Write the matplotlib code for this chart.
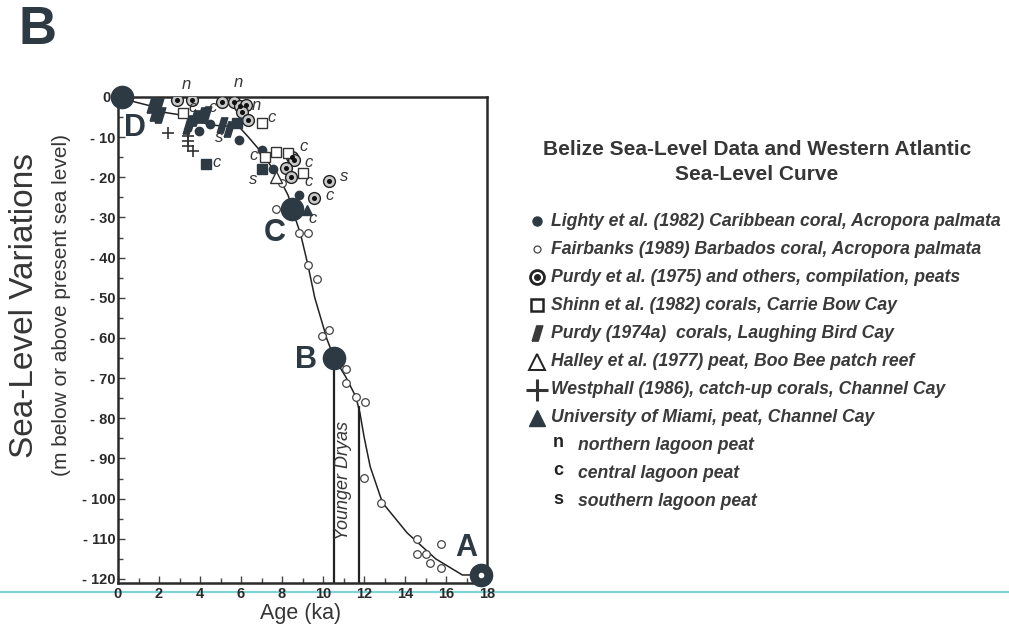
import matplotlib
matplotlib.use('Agg')
import matplotlib.pyplot as plt
from matplotlib.lines import Line2D

plt.rcParams['font.family'] = ['Liberation Sans', 'DejaVu Sans']

DARK = '#2d3a44'
INK = '#363636'

# western atlantic sea-level curve (age ka, level m)
curve_age = [0.2, 0.8, 1.65, 2.1, 3.1, 3.8, 4.5, 5.2, 5.9, 6.4, 6.9, 7.3, 7.9, 8.3, 8.5,
             8.9, 9.25, 9.6, 10.2, 10.55, 11.1, 11.6, 11.8, 12.0, 12.3, 12.9, 14.1, 15.5,
             16.8, 17.7]
curve_lvl = [0, -1.2, -2.3, -3.7, -4.5, -5.8, -7.0, -7.2, -7.4, -10.2, -13.2, -16, -20.5,
             -24.5, -28, -34, -41.5, -50, -60.4, -65, -69.6, -74.6, -78.6, -84.5, -92, -101,
             -108.5, -115, -119, -119]

# reference points A-D on the curve
big_names = ['A', 'B', 'C', 'D']
big_age = [17.7, 10.55, 8.5, 0.2]
big_lvl = [-119, -65, -28, 0]
big_text_age = [16.97, 9.18, 7.65, 0.83]
big_text_lvl = [-112.3, -65.4, -33.8, -7.8]

# Younger Dryas bounds (ka) and the level where each line starts
dryas_age = [10.55, 11.75]
dryas_top = [-65, -77]

lighty_age = [3.95, 4.48, 5.9, 7.0, 7.55, 8.85]
lighty_lvl = [-8.5, -6.7, -10.7, -13.2, -17.9, -24.4]

fairbanks_age = [8.0, 7.7, 8.85, 9.25, 9.25, 9.7, 9.97, 10.3, 11.1, 11.1, 11.6, 12.05,
                 12.0, 12.85, 14.6, 14.6, 15.0, 15.2, 15.75, 15.75]
fairbanks_lvl = [-21.5, -28, -33.8, -33.8, -41.8, -45.3, -59.5, -58, -67.6, -71.2, -74.6,
                 -76, -94.8, -101, -110, -113.7, -113.7, -115.9, -111.4, -117.2]

purdy75_age = [2.9, 3.6, 5.05, 5.65, 5.95, 6.25, 6.05, 6.35, 8.5, 8.6, 8.2, 8.45, 10.3, 9.55]
purdy75_lvl = [-0.7, -0.7, -1.2, -1.2, -2.2, -2.0, -3.7, -5.7, -15.0, -15.6, -17.7, -19.9,
               -20.9, -25.1]

shinn_age = [3.15, 7.0, 7.15, 7.7, 8.3, 9.0]
shinn_lvl = [-4.0, -6.5, -14.9, -13.6, -14.0, -18.9]

filled_sq_age = [4.3, 5.8, 7.0]
filled_sq_lvl = [-16.7, -6.5, -17.9]

purdy74_age = [1.65, 1.95, 1.8, 2.05, 3.4, 3.5, 3.75, 4.1, 4.3, 5.05, 5.4]
purdy74_lvl = [-2.0, -2.3, -4.0, -4.5, -7.2, -6.5, -5.2, -4.5, -4.2, -7.0, -8.0]

halley_age = [7.7]
halley_lvl = [-20.0]

westphall_age = [2.45, 3.4, 3.4, 3.4, 3.65]
westphall_lvl = [-9.0, -9.7, -11.0, -12.2, -13.4]

miami_age = [9.2]
miami_lvl = [-28.1]

# lagoon peat tags
tag_text = ['n', 'n', 'n', 'c', 'c', 'c', 'c', 's', 'c', 'c', 'c', 's', 'c', 's', 'c', 'c']
tag_age = [3.35, 5.85, 6.75, 3.65, 4.6, 7.5, 4.8, 4.95, 6.6, 9.05, 9.3, 6.6, 9.3, 11.05, 10.3, 9.5]
tag_lvl = [3.0, 3.5, -2.0, -2.7, -2.7, -5.2, -16.2, -10.2, -14.5, -12.2, -16.2, -20.6,
           -21.0, -19.7, -24.6, -30.3]

yticks = [0, -10, -20, -30, -40, -50, -60, -70, -80, -90, -100, -110, -120]
xticks = [0, 2, 4, 6, 8, 10, 12, 14, 16, 18]

legend_title = 'Belize Sea-Level Data and Western Atlantic\nSea-Level Curve'
legend_labels = ['Lighty et al. (1982) Caribbean coral, Acropora palmata',
                 'Fairbanks (1989) Barbados coral, Acropora palmata',
                 'Purdy et al. (1975) and others, compilation, peats',
                 'Shinn et al. (1982) corals, Carrie Bow Cay',
                 'Purdy (1974a)  corals, Laughing Bird Cay',
                 'Halley et al. (1977) peat, Boo Bee patch reef',
                 'Westphall (1986), catch-up corals, Channel Cay',
                 'University of Miami, peat, Channel Cay']
tag_keys = ['n', 'c', 's']
tag_labels = ['northern lagoon peat', 'central lagoon peat', 'southern lagoon peat']

slash = [(-0.7, -1), (-0.1, 1), (0.7, 1), (0.1, -1), (-0.7, -1)]

fig = plt.figure(figsize=(10.09, 6.29), dpi=100)
ax = fig.add_axes([118 / 1009, 1 - 583 / 629, 369 / 1009, 486 / 629])
ax.set_xlim(0, 18)
ax.set_ylim(-121, 0)

ax.plot(curve_age, curve_lvl, color='#222222', lw=1.1, zorder=2)
ax.vlines(dryas_age, -121, dryas_top, color='#222222', lw=1.6, zorder=2)
ax.text(11.02, -95.5, 'Younger Dryas', rotation=90, ha='center', va='center',
        fontsize=13, style='italic', color=INK)

ax.plot(lighty_age, lighty_lvl, 'o', ms=6, color=DARK, ls='none', zorder=4)
ax.plot(fairbanks_age, fairbanks_lvl, 'o', ms=5.5, mfc='white', mec='#444444', mew=0.9,
        ls='none', zorder=4)
ax.plot(purdy75_age, purdy75_lvl, 'o', ms=8.5, mfc='#c8c8c8', mec='#222222', mew=1.0,
        ls='none', zorder=4)
ax.plot(purdy75_age, purdy75_lvl, 'o', ms=2.6, color='#111111', ls='none', zorder=5)
ax.plot(shinn_age, shinn_lvl, 's', ms=7.5, mfc='white', mec='#333333', mew=1.0,
        ls='none', zorder=4)
ax.plot(filled_sq_age, filled_sq_lvl, 's', ms=6.5, color=DARK, ls='none', zorder=4)
ax.plot(purdy74_age, purdy74_lvl, marker=slash, ms=11, color=DARK, ls='none', zorder=4)
ax.plot(halley_age, halley_lvl, '^', ms=8, mfc='white', mec='#333333', mew=1.0,
        ls='none', zorder=4)
ax.plot(westphall_age, westphall_lvl, '+', ms=9, mew=1.2, color='#333333', ls='none', zorder=4)
ax.plot(miami_age, miami_lvl, '^', ms=6.5, color=DARK, ls='none', zorder=4)

for t, x, y in zip(tag_text, tag_age, tag_lvl):
    ax.text(x, y, t, fontsize=12, style='italic', color=INK, ha='center', va='center',
            zorder=6)

ax.plot(big_age, big_lvl, 'o', ms=16, color=DARK, ls='none', zorder=7, clip_on=False)
ax.plot(big_age[:1], big_lvl[:1], 'o', ms=3, color='white', ls='none', zorder=8,
        clip_on=False)
for n, x, y in zip(big_names, big_text_age, big_text_lvl):
    ax.text(x, y, n, fontsize=22, fontweight='bold', color=DARK, ha='center', va='center',
            zorder=8)

for s in ax.spines.values():
    s.set_linewidth(1.8)
    s.set_color('#2a2a2a')
ax.set_xticks(xticks)
ax.set_xticklabels([str(v) for v in xticks])
ax.set_xticks(range(0, 19), minor=True)
ax.set_yticks(yticks)
ax.set_yticklabels(['0 ' if v == 0 else '- %d' % -v for v in yticks])
ax.set_yticks(range(-120, 1, 5), minor=True)
ax.tick_params(which='both', direction='in', color='#444444', width=1.0)
ax.tick_params(which='major', length=5, labelsize=10.5, labelcolor='#2a2a2a', pad=3)
ax.tick_params(which='minor', length=3.5)
for lab in ax.get_xticklabels() + ax.get_yticklabels():
    lab.set_fontweight('bold')
ax.tick_params(axis='y', pad=2)

# overlay in pixel coordinates for side texts and legend
ov = fig.add_axes([0, 0, 1, 1], zorder=-1)
ov.set_xlim(0, 1009)
ov.set_ylim(629, 0)
ov.axis('off')
ov.add_line(Line2D([0, 1009], [592, 592], color='#7fd4d8', lw=1.6))

ov.text(38, 30, 'B', fontsize=38, fontweight='bold', color=DARK, ha='center', va='center')
ov.text(25, 305, 'Sea-Level Variations', rotation=90, fontsize=24, color=INK,
        ha='center', va='center')
ov.text(62, 305, '(m below or above present sea level)', rotation=90, fontsize=15,
        color=INK, ha='center', va='center')
ov.text(301, 613, 'Age (ka)', fontsize=15.5, color=INK, ha='center', va='center')

ov.text(757, 162, legend_title, fontsize=15, fontweight='bold', color=INK,
        ha='center', va='center', linespacing=1.45)

row_y = [220 + 28.1 * i for i in range(11)]
mk = [dict(marker='o', ms=6.5, color=DARK),
      dict(marker='o', ms=5, mfc='white', mec='#444444', mew=0.9),
      dict(marker='o', ms=10, mfc='white', mec='#222222', mew=2.0),
      dict(marker='s', ms=9, mfc='white', mec='#222222', mew=1.8),
      dict(marker=slash, ms=11, color='#3a3a3a'),
      dict(marker='^', ms=11, mfc='white', mec='#222222', mew=1.4),
      dict(marker='+', ms=16, mew=2.2, color='#333333'),
      dict(marker='^', ms=11, color=DARK)]
for i, (lab, m) in enumerate(zip(legend_labels, mk)):
    ov.plot([537], [row_y[i] + 1], ls='none', **m)
    ov.text(551, row_y[i] + 1, lab, fontsize=12.7, style='italic', fontweight='bold',
            color='#3a3a3a', ha='left', va='center')
ov.plot([537], [row_y[2] + 1], 'o', ms=4, color='#222222')
for j, (k, lab) in enumerate(zip(tag_keys, tag_labels)):
    y = row_y[8 + j]
    ov.text(558, y - 2, k, fontsize=13, fontweight='bold', color='#222222',
            ha='center', va='center')
    ov.text(578, y + 1, lab, fontsize=12.7, style='italic', fontweight='bold',
            color='#3a3a3a', ha='left', va='center')

fig.savefig('out.png', dpi=100)
